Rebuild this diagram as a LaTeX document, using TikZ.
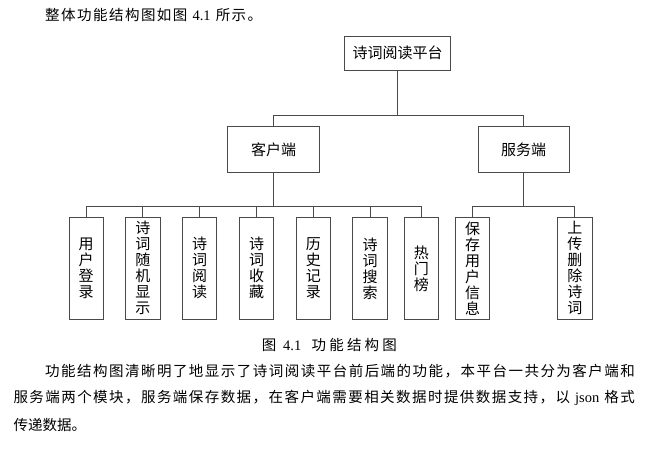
\documentclass[tikz,border=0pt]{standalone}
\usepackage{fontspec}
\setmainfont{Noto Sans CJK SC}
\newfontfamily\lat{Liberation Serif}
\def\spreadchars#1{\ifx\relax#1\else#1\hfil\expandafter\spreadchars\fi}
\newcommand\spreadto[2]{\hbox to #1{\spreadchars#2\relax\unskip}}
\definecolor{linec}{HTML}{4A4A4A}
\begin{document}
\begin{tikzpicture}[x=1pt,y=-1pt,
  every node/.style={inner sep=0pt, text=black},
  bodytext/.style={anchor=west, font=\fontsize{14.5pt}{17pt}\selectfont},
  mainbox/.style={draw=linec, line width=0.9pt, minimum height=33.3pt, minimum width=106.4pt, font=\fontsize{15pt}{18pt}\selectfont},
  midbox/.style={draw=linec, line width=0.9pt, minimum height=45.6pt, minimum width=91.5pt, font=\fontsize{15pt}{18pt}\selectfont},
  leafbox/.style={draw=linec, line width=0.9pt, minimum height=102pt, minimum width=34.5pt, align=center, font=\fontsize{15pt}{16pt}\selectfont},
  conn/.style={draw=linec, line width=0.9pt}]
\useasboundingbox (0,0) rectangle (666,450);
\fill[white] (0,0) rectangle (666,450);

\node[bodytext] (intro) at (45,15) {\spreadto{217pt}{整体功能结构图如图{{\lat\ 4.1\ }}所示。}};

\node[mainbox] (top) at (397.5,53.3) {诗词阅读平台};
\node[midbox] (client) at (273.5,149.5) {客户端};
\node[midbox] (server) at (523.7,149.5) {服务端};

\node[leafbox] (l1) at (86.2,268.3) {用\\户\\登\\录};
\node[leafbox] (l2) at (142.9,268.3) {诗\\词\\随\\机\\显\\示};
\node[leafbox] (l3) at (199.5,268.3) {诗\\词\\阅\\读};
\node[leafbox] (l4) at (256.5,268.3) {诗\\词\\收\\藏};
\node[leafbox] (l5) at (313.3,268.3) {历\\史\\记\\录};
\node[leafbox] (l6) at (370,268.3) {诗\\词\\搜\\索};
\node[leafbox] (l7) at (421.3,268.3) {热\\门\\榜};
\node[leafbox] (l8) at (472.5,268.3) {保\\存\\用\\户\\信\\息};
\node[leafbox] (l9) at (574.8,268.3) {上\\传\\删\\除\\诗\\词};

\coordinate (b1) at (0,115);
\coordinate (b2) at (0,206.7);

\draw[conn] (top.south) -- (top.south |- b1);
\draw[conn] (client.north) -- (client.north |- b1) -- (server.north |- b1) -- (server.north);

\draw[conn] (client.south) -- (client.south |- b2);
\draw[conn] (l1.north) -- (l1.north |- b2) -- (l7.north |- b2) -- (l7.north);
\foreach \n in {l2,l3,l4,l5,l6} \draw[conn] (\n.north) -- (\n.north |- b2);

\draw[conn] (server.south) -- (server.south |- b2);
\draw[conn] (l8.north) -- (l8.north |- b2) -- (l9.north |- b2) -- (l9.north);

\node[bodytext] (cap) at (261.7,345) {\spreadto{135pt}{图{{\lat\ 4.1\ \ }}功能结构图}};

\node[bodytext] (p1) at (45,371) {\spreadto{589.7pt}{功能结构图清晰明了地显示了诗词阅读平台前后端的功能，本平台一共分为客户端和}};
\node[bodytext] (p2) at (13.3,398) {\spreadto{621.4pt}{服务端两个模块，服务端保存数据，在客户端需要相关数据时提供数据支持，以{{\lat\ json\ }}格式}};
\node[bodytext] (p3) at (13.3,425) {传递数据。};
\end{tikzpicture}
\end{document}
